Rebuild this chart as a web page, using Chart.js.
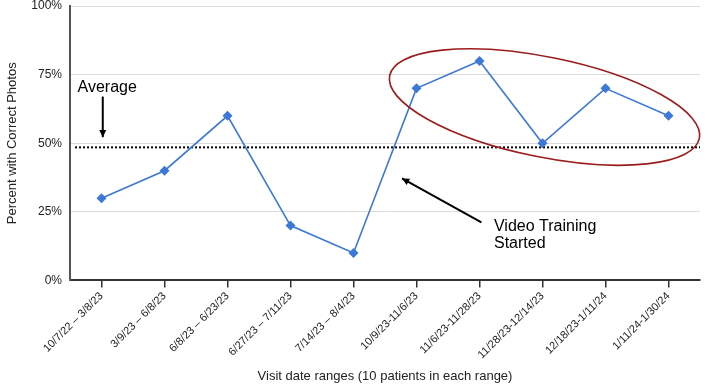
<!DOCTYPE html>
<html>
<head>
<meta charset="utf-8">
<script src="https://cdn.jsdelivr.net/npm/chart.js@4"></script>
<style>
  html, body { margin: 0; padding: 0; background: #fff; }
  #wrap { width: 709px; height: 386px; position: relative; }
</style>
</head>
<body>
<div id="wrap"><canvas id="c" width="709" height="386"></canvas></div>
<script>
const categories = [
  "10/7/22 \u2013 3/8/23",
  "3/9/23 \u2013 6/8/23",
  "6/8/23 \u2013 6/23/23",
  "6/27/23 \u2013 7/11/23",
  "7/14/23 \u2013 8/4/23",
  "10/9/23-11/6/23",
  "11/6/23-11/28/23",
  "11/28/23-12/14/23",
  "12/18/23-1/11/24",
  "1/11/24-1/30/24"
];
const percentCorrect = [30, 40, 60, 20, 10, 70, 80, 50, 70, 60];
const yTicks = [0, 25, 50, 75, 100];
const averageValue = 48.5;
const averageLabel = "Average";
const trainingLabel = ["Video Training", "Started"];
const yTitle = "Percent with Correct Photos";
const xTitle = "Visit date ranges (10 patients in each range)";

const FONT = "'Liberation Sans', Arial, sans-serif";

function arrow(ctx, x1, y1, x2, y2, head) {
  ctx.beginPath();
  ctx.moveTo(x1, y1);
  ctx.lineTo(x2, y2);
  ctx.stroke();
  const a = Math.atan2(y2 - y1, x2 - x1);
  ctx.beginPath();
  ctx.moveTo(x2, y2);
  ctx.lineTo(x2 - head * Math.cos(a - 0.45), y2 - head * Math.sin(a - 0.45));
  ctx.lineTo(x2 - head * Math.cos(a + 0.45), y2 - head * Math.sin(a + 0.45));
  ctx.closePath();
  ctx.fill();
}

const annotations = {
  id: 'annotations',
  beforeDatasetsDraw(chart) {
    const { ctx, scales: { x, y }, chartArea } = chart;
    ctx.save();
    ctx.strokeStyle = '#000';
    ctx.lineWidth = 2;
    ctx.setLineDash([2, 2]);
    const ya = y.getPixelForValue(averageValue);
    ctx.beginPath();
    ctx.moveTo(x.getPixelForValue(-0.42), ya);
    ctx.lineTo(chartArea.right, ya);
    ctx.stroke();
    ctx.restore();
  },
  afterDatasetsDraw(chart) {
    const { ctx, scales: { x, y } } = chart;
    ctx.save();
    ctx.fillStyle = '#000';
    ctx.strokeStyle = '#000';
    ctx.font = "16px " + FONT;
    ctx.textBaseline = 'alphabetic';
    ctx.textAlign = 'left';
    ctx.fillText(averageLabel, x.getPixelForValue(-0.38), y.getPixelForValue(68.6));
    ctx.lineWidth = 2;
    arrow(ctx, x.getPixelForValue(0.02), y.getPixelForValue(67),
               x.getPixelForValue(0.02), y.getPixelForValue(52.2), 8);
    ctx.fillText(trainingLabel[0], x.getPixelForValue(6.23), y.getPixelForValue(18.2));
    ctx.fillText(trainingLabel[1], x.getPixelForValue(6.23), y.getPixelForValue(11.7));
    ctx.lineWidth = 2;
    arrow(ctx, x.getPixelForValue(6.03), y.getPixelForValue(21.2),
               x.getPixelForValue(4.77), y.getPixelForValue(37.2), 8);
    const cx = x.getPixelForValue(7.0);
    const cy = y.getPixelForValue(63.2);
    ctx.strokeStyle = '#9b1c1c';
    ctx.lineWidth = 1.6;
    ctx.beginPath();
    ctx.ellipse(cx + 2, cy, 158, 50, 0.2, 0, Math.PI * 2);
    ctx.stroke();
    ctx.restore();
  }
};

new Chart(document.getElementById('c'), {
  type: 'line',
  data: {
    labels: categories,
    datasets: [{
      data: percentCorrect,
      borderColor: '#3c78d8',
      backgroundColor: '#3c78d8',
      borderWidth: 1.6,
      pointStyle: 'rectRot',
      pointRadius: 5,
      pointHoverRadius: 5,
      pointBorderWidth: 0,
      tension: 0,
      fill: false
    }]
  },
  options: {
    responsive: false,
    animation: false,
    devicePixelRatio: 1,
    layout: { padding: { left: 0, right: 9, top: 6, bottom: 2 } },
    plugins: { legend: { display: false }, tooltip: { enabled: false } },
    scales: {
      x: {
        type: 'category',
        offset: true,
        grid: {
          display: true,
          drawOnChartArea: false,
          drawTicks: true,
          tickLength: 7,
          color: '#333',
          lineWidth: 1.5,
          offset: false
        },
        border: { display: true, color: '#333', width: 2 },
        ticks: {
          autoSkip: false,
          minRotation: 45,
          maxRotation: 45,
          padding: 2,
          color: '#222',
          font: { family: FONT, size: 11 }
        },
        title: {
          display: true,
          text: xTitle,
          color: '#222',
          font: { family: FONT, size: 13 },
          padding: { top: 5, bottom: 0 }
        },
        afterFit(s) { s.paddingLeft = 0; s.paddingRight = 0; }
      },
      y: {
        min: 0,
        max: 100,
        afterBuildTicks(s) { s.ticks = yTicks.map(v => ({ value: v })); },
        grid: { color: '#dcdcdc', lineWidth: 1, drawTicks: false },
        border: { display: true, color: '#555', width: 2 },
        ticks: {
          padding: 8,
          color: '#222',
          font: { family: FONT, size: 12 },
          callback: v => v + '%'
        },
        title: {
          display: true,
          text: yTitle,
          color: '#222',
          font: { family: FONT, size: 13 },
          padding: { top: 5, bottom: 0 }
        },
        afterFit(s) { s.width = 70; s.paddingTop = 0; s.paddingBottom = 0; }
      }
    }
  },
  plugins: [annotations]
});
</script>
</body>
</html>
